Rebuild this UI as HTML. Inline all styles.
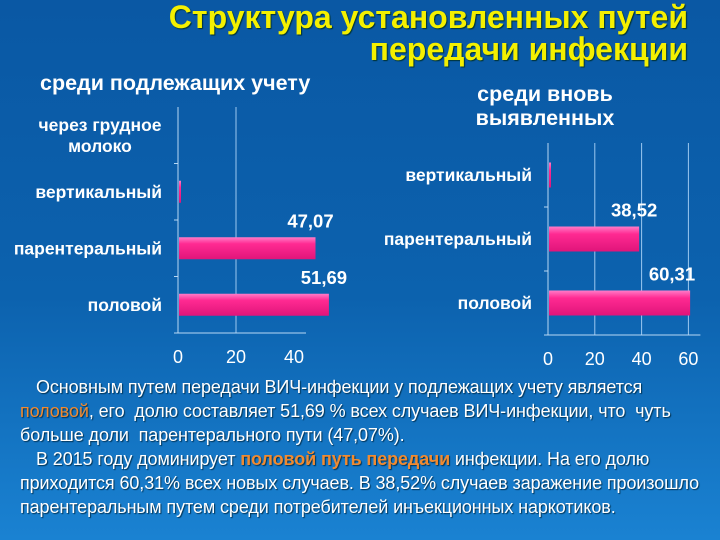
<!DOCTYPE html>
<html><head><meta charset="utf-8">
<style>
html,body{margin:0;padding:0}
body{width:720px;height:540px;overflow:hidden;position:relative;
background:linear-gradient(180deg,#0a58a4 0%,#0c62ae 55%,#1a82d2 100%);
font-family:"Liberation Sans","DejaVu Sans",sans-serif;}
.title{position:absolute;right:32px;top:1px;text-align:right;color:#f4f000;font-weight:bold;font-size:32px;line-height:32px;text-shadow:1px 1px 1px #033;}
.para{position:absolute;left:20px;color:#fff;font-size:18px;white-space:nowrap;letter-spacing:-0.1px;text-shadow:1px 1px 1px #035;}
.hl{color:#f08a30;font-weight:bold}
svg{position:absolute;left:0;top:0}
svg text{font-family:"Liberation Sans","DejaVu Sans",sans-serif;fill:#fff;font-weight:bold}
</style></head><body>
<div class="title">Структура установленных путей<br>передачи инфекции</div>
<svg id="chart" width="720" height="540"></svg>
<div class="para" style="top:377px;left:36px">Основным путем передачи ВИЧ-инфекции у подлежащих учету является</div>
<div class="para" style="top:401px"><span class="hl" style="font-weight:normal">половой</span>, его&nbsp; долю составляет 51,69 % всех случаев ВИЧ-инфекции, что&nbsp; чуть</div>
<div class="para" style="top:425px">больше доли&nbsp; парентерального пути (47,07%).</div>
<div class="para" style="top:449px;left:36px">В 2015 году доминирует <span class="hl">половой путь передачи</span> инфекции. На его долю</div>
<div class="para" style="top:473px">приходится 60,31% всех новых случаев. В 38,52% случаев заражение произошло</div>
<div class="para" style="top:497px">парентеральным путем среди потребителей инъекционных наркотиков.</div>
<script>
const leftCategories = ["через грудное|молоко","вертикальный","парентеральный","половой"];
const leftValues = [0, 0.6, 47.07, 51.69];
const leftLabels = ["", "", "47,07", "51,69"];
const leftTicks = [0, 20, 40];
const rightCategories = ["вертикальный","парентеральный","половой"];
const rightValues = [0.6, 38.52, 60.31];
const rightLabels = ["", "38,52", "60,31"];
const rightTicks = [0, 20, 40, 60];

const svg = document.getElementById('chart');
const NS = 'http://www.w3.org/2000/svg';
function mk(tag, attrs){const e=document.createElementNS(NS,tag);for(const k in attrs)e.setAttribute(k,attrs[k]);svg.appendChild(e);return e;}

svg.innerHTML = '<defs><linearGradient id="bg" x1="0" y1="0" x2="0" y2="1"><stop offset="0" stop-color="#ff7cc8"/><stop offset="0.3" stop-color="#ff2a92"/><stop offset="1" stop-color="#e0157a"/></linearGradient></defs>';

function drawChart(cfg){
  const {x0, top, bottom, pxPer, cats, vals, labels, ticks, barH, gridMax, name} = cfg;
  const xs = v => x0 + v*pxPer;
  const band = (bottom-top)/cats.length;
  ticks.forEach(t=>{
    if(t>0 && t<=gridMax){
      const g=mk('line',{x1:xs(t),x2:xs(t),y1:top,y2:bottom,stroke:'#9cc8f0','stroke-width':1});
      
      
    }
    const tl=mk('text',{x:xs(t),y:bottom+30,'text-anchor':'middle','font-size':18});
    tl.style.fontWeight='normal';
    tl.textContent=t;
    
    
  });
  const ax=mk('line',{x1:x0,x2:x0,y1:top,y2:bottom,stroke:'#b8d8f4','stroke-width':1});
  
  
  const bx=mk('line',{x1:x0-4,x2:xs(ticks[ticks.length-1])+12,y1:bottom,y2:bottom,stroke:'#b8d8f4','stroke-width':1});
  
  
  cats.forEach((c,i)=>{
    const cy = top + band*(i+0.5);
    if(i>0){mk('line',{x1:x0-4,x2:x0,y1:top+band*i,y2:top+band*i,stroke:'#b8d8f4'});}
    const parts=c.split('|');
    parts.forEach((p,j)=>{
      const multi=parts.length>1;
      const t=mk('text',{x:(multi? 100 : x0-16),y:cy+6+(j-(parts.length-1)/2)*21,'text-anchor':(multi?'middle':'end'),'font-size':17.5});
      t.textContent=p;
      
      
    });
    if(vals[i]>0){
      const r=mk('rect',{x:x0+1,y:cy-barH/2,width:Math.max(2,xs(vals[i])-x0),height:barH,fill:'url(#bg)'});
      
      
    }
    if(labels[i]){
      const lx=Math.min(xs(vals[i])-4, 672);
      const l=mk('text',{x:lx,y:cy-barH/2-10,'text-anchor':'middle','font-size':18.5});
      l.textContent=labels[i];
      
      
    }
  });
}
drawChart({x0:178,top:107,bottom:333,pxPer:2.9,cats:leftCategories,vals:leftValues,labels:leftLabels,ticks:leftTicks,barH:22,gridMax:20,name:'left-chart'});
drawChart({x0:548,top:143,bottom:335,pxPer:2.34,cats:rightCategories,vals:rightValues,labels:rightLabels,ticks:rightTicks,barH:25,gridMax:60,name:'right-chart'});

function title(x,y,txt,anchor,nm){const t=mk('text',{x:x,y:y,'text-anchor':anchor,'font-size':21.5});t.textContent=txt;}
title(40,90,'среди подлежащих учету','start','left-chart-title');
title(545,101,'среди вновь','middle','right-chart-title');
title(545,125,'выявленных','middle','right-chart-title');
</script>
</body></html>
